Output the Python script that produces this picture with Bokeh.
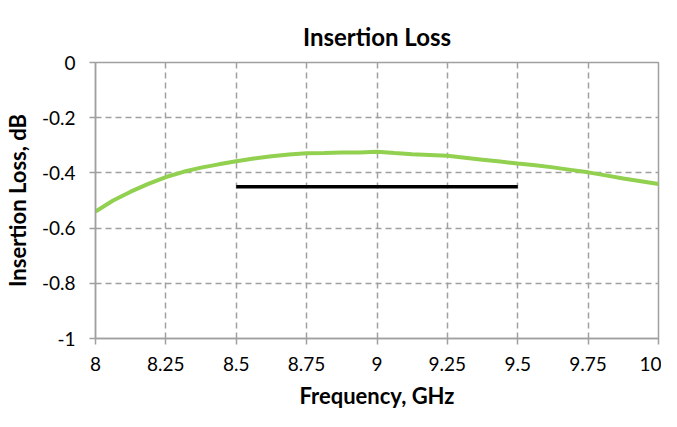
from bokeh.plotting import figure
from bokeh.models import FixedTicker, Title, Range1d
from bokeh.embed import file_html
from bokeh.resources import INLINE

# data
freq = [8.0, 8.0625, 8.125, 8.1875, 8.25, 8.3125, 8.375, 8.4375, 8.5, 8.5625, 8.625, 8.6875,
        8.75, 8.8125, 8.875, 8.9375, 9.0, 9.0625, 9.125, 9.1875, 9.25, 9.3125, 9.375, 9.4375,
        9.5, 9.5625, 9.625, 9.6875, 9.75, 9.8125, 9.875, 9.9375, 10.0]
loss = [-0.540, -0.500, -0.468, -0.440, -0.415, -0.396, -0.381, -0.369, -0.358, -0.348, -0.340, -0.333,
        -0.329, -0.328, -0.326, -0.326, -0.323, -0.328, -0.332, -0.335, -0.338, -0.345, -0.352, -0.359,
        -0.366, -0.372, -0.380, -0.389, -0.398, -0.409, -0.420, -0.430, -0.440]
spec_x = [8.5, 9.5]
spec_y = [-0.45, -0.45]

x_ticks = [8, 8.25, 8.5, 8.75, 9, 9.25, 9.5, 9.75, 10]
x_labels = ["8", "8.25", "8.5", "8.75", "9", "9.25", "9.5", "9.75", "10"]
y_ticks = [0, -0.2, -0.4, -0.6, -0.8, -1]
y_labels = ["0", "-0.2", "-0.4", "-0.6", "-0.8", "-1"]

FONT = "Lato"
GRAY = "#A0A0A0"

p = figure(width=661, height=411, output_backend="svg", toolbar_location=None,
           x_range=Range1d(8, 10), y_range=Range1d(-1, 0),
           min_border_left=88, min_border_right=3, min_border_top=62, min_border_bottom=66)
p.title = Title(text="Insertion Loss", align="center", text_font=FONT,
                text_font_size="24px", text_font_style="bold", text_color="black",
                standoff=24)

p.line(freq, loss, line_color="#92D050", line_width=4)
p.line(spec_x, spec_y, line_color="black", line_width=3.5)

p.outline_line_color = GRAY
p.outline_line_width = 1.5

for ax in (p.xaxis[0], p.yaxis[0]):
    ax.axis_line_color = GRAY
    ax.axis_line_width = 1.5
    ax.major_tick_line_color = GRAY
    ax.major_tick_line_width = 1.5
    ax.major_tick_out = 6
    ax.major_tick_in = 0
    ax.minor_tick_line_color = None
    ax.major_label_text_font = FONT
    ax.major_label_text_font_size = "19px"
    ax.major_label_text_color = "black"
    ax.axis_label_text_font = FONT
    ax.axis_label_text_font_size = "22px"
    ax.axis_label_text_font_style = "bold"
    ax.axis_label_text_color = "black"

p.xaxis.ticker = FixedTicker(ticks=x_ticks)
p.yaxis.ticker = FixedTicker(ticks=y_ticks)
p.xaxis.major_label_overrides = dict(zip(x_ticks, x_labels))
p.yaxis.major_label_overrides = dict(zip(y_ticks, y_labels))
p.xaxis.axis_label = "Frequency, GHz"
p.yaxis.axis_label = "Insertion Loss, dB"
p.xaxis.major_label_standoff = 12
p.yaxis.major_label_standoff = 14
p.xaxis.axis_label_standoff = 8
p.yaxis.axis_label_standoff = 8

p.xgrid.grid_line_color = GRAY
p.ygrid.grid_line_color = GRAY
p.xgrid.grid_line_dash = "6 4"
p.ygrid.grid_line_dash = "6 4"
p.xgrid.grid_line_width = 1.5
p.ygrid.grid_line_width = 1.5

open("out.html", "w").write(file_html(p, INLINE))
